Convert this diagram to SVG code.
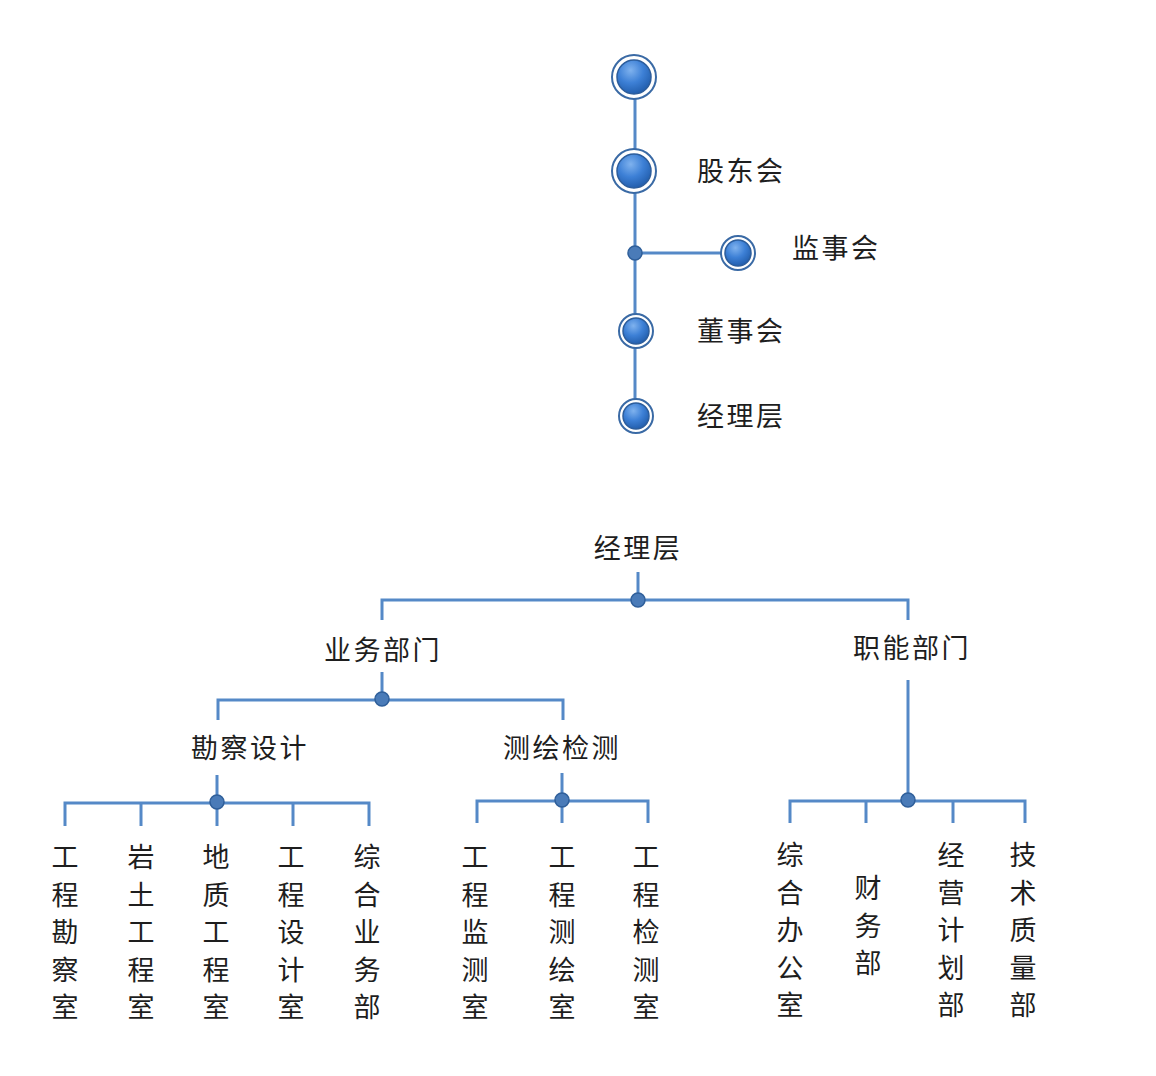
<svg xmlns="http://www.w3.org/2000/svg" width="1156" height="1076" viewBox="0 0 1156 1076">
<defs>
<radialGradient id="ball" cx="0.4" cy="0.3" r="0.75">
<stop offset="0" stop-color="#7fb2ee"/>
<stop offset="0.5" stop-color="#3d80d6"/>
<stop offset="1" stop-color="#1f5aa8"/>
</radialGradient>
<style>
.ln{stroke:#5589c7;stroke-width:3;fill:none;stroke-linecap:butt}
.dot{fill:#4a7bb8;stroke:#2f5f9a;stroke-width:1.5}
.ring{fill:#ffffff;stroke:#3a6aa5;stroke-width:2}
.ball{fill:url(#ball);stroke:#2c5d9c;stroke-width:1.5}
.t{font-family:"Noto Sans CJK SC","Noto Sans",sans-serif;font-size:27px;fill:#1e1e1e}
.h{letter-spacing:2.5px}
.c{text-anchor:middle}
</style>
</defs>
<rect width="1156" height="1076" fill="#ffffff"/>
<g id="connectors">
<line class="ln" x1="635" y1="77" x2="635" y2="416"/>
<line class="ln" x1="635" y1="253" x2="738" y2="253"/>
<polyline class="ln" points="638,572 638,600"/>
<polyline class="ln" points="382,620 382,600 908,600 908,620"/>
<polyline class="ln" points="382,672 382,700"/>
<polyline class="ln" points="218,720 218,700 563,700 563,720"/>
<polyline class="ln" points="217,775 217,803"/>
<polyline class="ln" points="65,826 65,803 369,803 369,826"/>
<line class="ln" x1="141" y1="803" x2="141" y2="826"/>
<line class="ln" x1="217" y1="803" x2="217" y2="826"/>
<line class="ln" x1="293" y1="803" x2="293" y2="826"/>
<polyline class="ln" points="562,773 562,801"/>
<polyline class="ln" points="477,823 477,801 648,801 648,823"/>
<line class="ln" x1="562" y1="801" x2="562" y2="823"/>
<polyline class="ln" points="908,680 908,801"/>
<polyline class="ln" points="790,823 790,801 1025,801 1025,823"/>
<line class="ln" x1="866" y1="801" x2="866" y2="823"/>
<line class="ln" x1="953" y1="801" x2="953" y2="823"/>
<circle class="dot" cx="635" cy="253" r="7"/>
<circle class="dot" cx="638" cy="600" r="7"/>
<circle class="dot" cx="382" cy="699" r="7"/>
<circle class="dot" cx="217" cy="802" r="7"/>
<circle class="dot" cx="562" cy="800" r="7"/>
<circle class="dot" cx="908" cy="800" r="7"/>
</g>
<g id="top">
<circle class="ring" cx="634" cy="77" r="22"/>
<circle class="ball" cx="634" cy="77" r="17"/>
</g>
<g id="gudonghui">
<circle class="ring" cx="634" cy="171" r="22"/>
<circle class="ball" cx="634" cy="171" r="17"/>
<text class="t h" x="697" y="181">股东会</text>
</g>
<g id="jianshihui">
<circle class="ring" cx="738" cy="253" r="17"/>
<circle class="ball" cx="738" cy="253" r="13"/>
<text class="t h" x="792" y="258">监事会</text>
</g>
<g id="dongshihui">
<circle class="ring" cx="636" cy="331" r="17"/>
<circle class="ball" cx="636" cy="331" r="13"/>
<text class="t h" x="697" y="341">董事会</text>
</g>
<g id="jinglice">
<circle class="ring" cx="636" cy="416" r="17"/>
<circle class="ball" cx="636" cy="416" r="13"/>
<text class="t h" x="697" y="426">经理层</text>
</g>
<g id="jinglice2"><text class="t c h" x="638" y="558">经理层</text></g>
<g id="yewu"><text class="t c h" x="383" y="660">业务部门</text></g>
<g id="zhineng"><text class="t c h" x="912" y="658">职能部门</text></g>
<g id="kancha"><text class="t c h" x="250" y="758">勘察设计</text></g>
<g id="cehui"><text class="t c h" x="562" y="758">测绘检测</text></g>
<g id="n1"><text class="t c" x="65" y="867"><tspan x="65">工</tspan><tspan x="65" dy="37.5">程</tspan><tspan x="65" dy="37.5">勘</tspan><tspan x="65" dy="37.5">察</tspan><tspan x="65" dy="37.5">室</tspan></text></g>
<g id="n2"><text class="t c" x="141" y="867"><tspan x="141">岩</tspan><tspan x="141" dy="37.5">土</tspan><tspan x="141" dy="37.5">工</tspan><tspan x="141" dy="37.5">程</tspan><tspan x="141" dy="37.5">室</tspan></text></g>
<g id="n3"><text class="t c" x="216" y="867"><tspan x="216">地</tspan><tspan x="216" dy="37.5">质</tspan><tspan x="216" dy="37.5">工</tspan><tspan x="216" dy="37.5">程</tspan><tspan x="216" dy="37.5">室</tspan></text></g>
<g id="n4"><text class="t c" x="291" y="867"><tspan x="291">工</tspan><tspan x="291" dy="37.5">程</tspan><tspan x="291" dy="37.5">设</tspan><tspan x="291" dy="37.5">计</tspan><tspan x="291" dy="37.5">室</tspan></text></g>
<g id="n5"><text class="t c" x="367" y="867"><tspan x="367">综</tspan><tspan x="367" dy="37.5">合</tspan><tspan x="367" dy="37.5">业</tspan><tspan x="367" dy="37.5">务</tspan><tspan x="367" dy="37.5">部</tspan></text></g>
<g id="n6"><text class="t c" x="475" y="867"><tspan x="475">工</tspan><tspan x="475" dy="37.5">程</tspan><tspan x="475" dy="37.5">监</tspan><tspan x="475" dy="37.5">测</tspan><tspan x="475" dy="37.5">室</tspan></text></g>
<g id="n7"><text class="t c" x="562" y="867"><tspan x="562">工</tspan><tspan x="562" dy="37.5">程</tspan><tspan x="562" dy="37.5">测</tspan><tspan x="562" dy="37.5">绘</tspan><tspan x="562" dy="37.5">室</tspan></text></g>
<g id="n8"><text class="t c" x="646" y="867"><tspan x="646">工</tspan><tspan x="646" dy="37.5">程</tspan><tspan x="646" dy="37.5">检</tspan><tspan x="646" dy="37.5">测</tspan><tspan x="646" dy="37.5">室</tspan></text></g>
<g id="n9"><text class="t c" x="790" y="865"><tspan x="790">综</tspan><tspan x="790" dy="37.5">合</tspan><tspan x="790" dy="37.5">办</tspan><tspan x="790" dy="37.5">公</tspan><tspan x="790" dy="37.5">室</tspan></text></g>
<g id="n10"><text class="t c" x="868" y="898"><tspan x="868">财</tspan><tspan x="868" dy="37.5">务</tspan><tspan x="868" dy="37.5">部</tspan></text></g>
<g id="n11"><text class="t c" x="951" y="865"><tspan x="951">经</tspan><tspan x="951" dy="37.5">营</tspan><tspan x="951" dy="37.5">计</tspan><tspan x="951" dy="37.5">划</tspan><tspan x="951" dy="37.5">部</tspan></text></g>
<g id="n12"><text class="t c" x="1023" y="865"><tspan x="1023">技</tspan><tspan x="1023" dy="37.5">术</tspan><tspan x="1023" dy="37.5">质</tspan><tspan x="1023" dy="37.5">量</tspan><tspan x="1023" dy="37.5">部</tspan></text></g>
</svg>
